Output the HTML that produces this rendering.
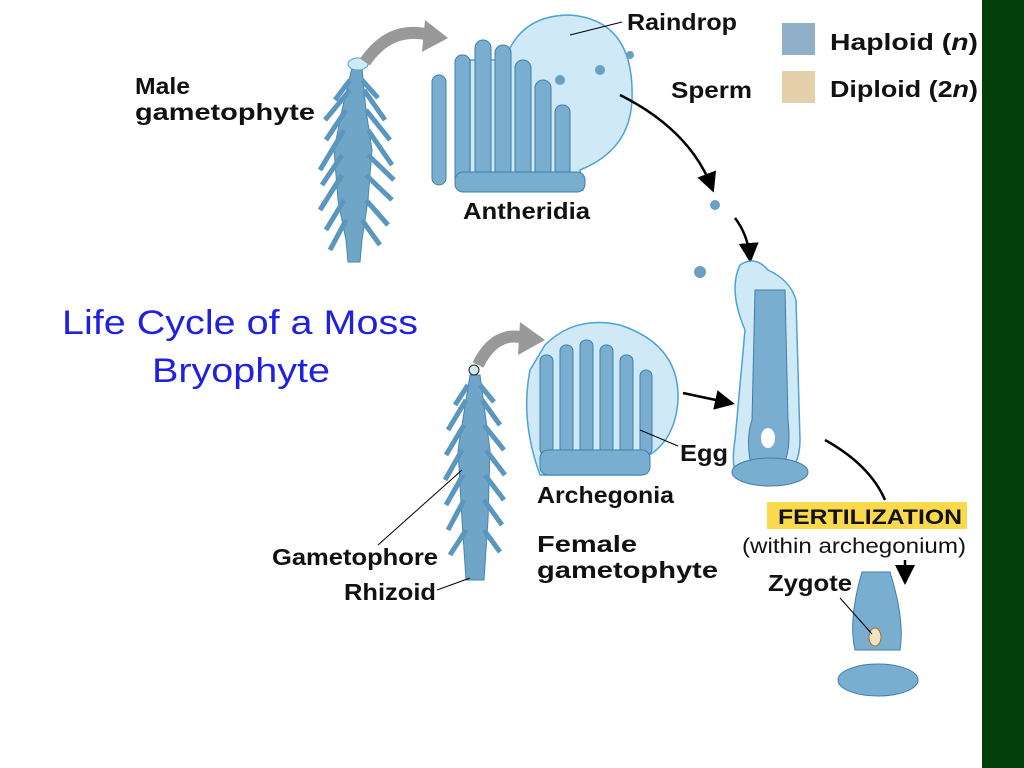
<!DOCTYPE html>
<html><head><meta charset="utf-8"><style>
html,body{margin:0;padding:0;background:#fff;width:1024px;height:768px;overflow:hidden}
svg{display:block}
text{font-family:"Liberation Sans",Arial,sans-serif}
.b{font-weight:bold;font-size:23px;fill:#111}
</style></head><body>
<svg width="1024" height="768" viewBox="0 0 1024 768">
<defs>
<marker id="ah" markerWidth="8" markerHeight="8" refX="6" refY="4" orient="auto"><path d="M0,0 L8,4 L0,8 Z" fill="#000"/></marker>
</defs>
<rect x="982" y="0" width="42" height="768" fill="#023f0b"/>
<rect x="782" y="23" width="33" height="32" fill="#8fb0c8"/>
<rect x="782" y="71" width="33" height="32" fill="#e6d0ac"/>
<text x="830" y="50" class="b" textLength="148" lengthAdjust="spacingAndGlyphs">Haploid (<tspan font-style="italic">n</tspan>)</text>
<text x="830" y="97" class="b" textLength="148" lengthAdjust="spacingAndGlyphs">Diploid (2<tspan font-style="italic">n</tspan>)</text>
<text x="62" y="334" font-size="34" fill="#2020e0" textLength="356" lengthAdjust="spacingAndGlyphs">Life Cycle of a Moss</text>
<text x="152" y="382" font-size="34" fill="#2020e0" textLength="178" lengthAdjust="spacingAndGlyphs">Bryophyte</text>
<!-- male plant -->
<g fill="#6fa6c8" stroke="#4a86ad" stroke-width="1">
<path d="M352,68 L362,68 L366,110 L372,150 L368,200 L362,240 L360,262 L348,262 L346,240 L338,200 L334,150 L342,110 Z"/>
<path d="M350,80 L335,100 M362,80 L378,98 M350,90 L325,120 M364,90 L385,120 M346,110 L326,140 M366,110 L390,140 M344,130 L320,170 M368,130 L392,165 M342,155 L322,185 M368,155 L394,180 M342,175 L320,210 M366,175 L392,200 M344,200 L326,230 M366,200 L388,225 M346,220 L330,250 M362,220 L380,245" stroke="#5a96bd" stroke-width="5" fill="none"/>
</g>
<ellipse cx="358" cy="64" rx="10" ry="6" fill="#cfe9f5" stroke="#4aa3d6"/>
<path d="M365,62 Q390,25 430,35" stroke="#999" stroke-width="12" fill="none"/>
<polygon points="425,20 448,38 422,52" fill="#999"/>
<!-- antheridia -->
<path d="M505,60 Q520,15 570,15 Q635,20 632,100 Q630,150 580,170 L583,190 L470,190 L470,60 Z" fill="#cfeaf6" stroke="#4aa3d6" stroke-width="1.5"/>
<g fill="#7aaed0" stroke="#3f7ea8">
<rect x="432" y="75" width="14" height="110" rx="7"/>
<rect x="455" y="55" width="15" height="130" rx="7"/>
<rect x="475" y="40" width="16" height="145" rx="8"/>
<rect x="495" y="45" width="16" height="140" rx="8"/>
<rect x="515" y="60" width="16" height="125" rx="8"/>
<rect x="535" y="80" width="16" height="105" rx="8"/>
<rect x="555" y="105" width="15" height="80" rx="7"/>
<rect x="455" y="172" width="130" height="20" rx="8"/>
</g>
<text x="463" y="219" class="b" textLength="127" lengthAdjust="spacingAndGlyphs">Antheridia</text>
<text x="627" y="30" class="b" textLength="110" lengthAdjust="spacingAndGlyphs">Raindrop</text>
<line x1="570" y1="35" x2="622" y2="22" stroke="#000"/>
<text x="671" y="98" class="b" textLength="81" lengthAdjust="spacingAndGlyphs">Sperm</text>
<text x="135" y="94" class="b" textLength="55" lengthAdjust="spacingAndGlyphs">Male</text>
<text x="135" y="120" class="b" textLength="180" lengthAdjust="spacingAndGlyphs">gametophyte</text>
<g fill="#6aa0c4"><circle cx="630" cy="55" r="4"/><circle cx="600" cy="70" r="5"/><circle cx="560" cy="80" r="5"/><circle cx="715" cy="205" r="5"/><circle cx="700" cy="272" r="6"/></g>
<path d="M620,95 Q690,130 712,188" stroke="#000" stroke-width="2.5" fill="none" marker-end="url(#ah)"/>
<path d="M735,218 Q748,235 750,258" stroke="#000" stroke-width="2.5" fill="none" marker-end="url(#ah)"/>
<!-- tall archegonium -->
<path d="M740,265 Q755,255 768,270 Q790,280 796,300 L800,440 Q800,475 770,482 L740,480 Q730,470 735,440 L745,330 Q728,290 740,265 Z" fill="#cfeaf6" stroke="#4aa3d6" stroke-width="1.5"/>
<path d="M755,290 L785,290 L788,420 Q792,455 780,470 L752,470 Q745,440 752,420 Z" fill="#7aaed0" stroke="#3f7ea8"/>
<ellipse cx="768" cy="438" rx="7" ry="10" fill="#fff"/>
<ellipse cx="770" cy="472" rx="38" ry="14" fill="#7aaed0" stroke="#3f7ea8"/>
<!-- female plant -->
<g fill="#6fa6c8" stroke="#4a86ad">
<path d="M470,375 L480,375 L490,450 L488,520 L484,580 L466,580 L462,520 L458,450 Z"/>
<path d="M468,385 L455,405 M480,385 L494,402 M466,400 L448,430 M482,400 L500,425 M464,425 L446,455 M484,425 L504,450 M462,450 L445,480 M486,450 L505,475 M463,475 L446,505 M485,475 L504,500 M464,500 L448,530 M484,500 L502,525 M466,530 L450,555 M484,530 L500,552" stroke="#5a96bd" stroke-width="5" fill="none"/>
</g>
<circle cx="474" cy="370" r="5" fill="#cfe9f5" stroke="#222"/>
<path d="M478,365 Q495,330 525,338" stroke="#999" stroke-width="12" fill="none"/>
<polygon points="520,322 545,340 518,355" fill="#999"/>
<!-- archegonia bubble -->
<path d="M545,345 Q575,315 620,325 Q680,345 678,400 Q675,445 640,460 L640,475 L540,475 Q520,420 530,370 Z" fill="#cfeaf6" stroke="#4aa3d6" stroke-width="1.5"/>
<g fill="#7aaed0" stroke="#3f7ea8">
<rect x="540" y="355" width="13" height="100" rx="6"/>
<rect x="560" y="345" width="13" height="110" rx="6"/>
<rect x="580" y="340" width="13" height="115" rx="6"/>
<rect x="600" y="345" width="13" height="110" rx="6"/>
<rect x="620" y="355" width="13" height="100" rx="6"/>
<rect x="640" y="370" width="12" height="85" rx="6"/>
<rect x="540" y="450" width="110" height="25" rx="8"/>
</g>
<text x="537" y="503" class="b" textLength="137" lengthAdjust="spacingAndGlyphs">Archegonia</text>
<text x="680" y="461" class="b" textLength="48" lengthAdjust="spacingAndGlyphs">Egg</text>
<line x1="640" y1="430" x2="678" y2="446" stroke="#000"/>
<text x="537" y="552" class="b" textLength="100" lengthAdjust="spacingAndGlyphs">Female</text>
<text x="537" y="578" class="b" textLength="181" lengthAdjust="spacingAndGlyphs">gametophyte</text>
<path d="M683,393 L730,403" stroke="#000" stroke-width="2.5" marker-end="url(#ah)"/>
<text x="272" y="565" class="b" textLength="166" lengthAdjust="spacingAndGlyphs">Gametophore</text>
<text x="344" y="600" class="b" textLength="92" lengthAdjust="spacingAndGlyphs">Rhizoid</text>
<line x1="378" y1="545" x2="462" y2="470" stroke="#000"/>
<line x1="437" y1="590" x2="470" y2="578" stroke="#000"/>
<path d="M825,440 Q870,465 885,500" stroke="#000" stroke-width="2.5" fill="none"/>
<rect x="767" y="502" width="200" height="27" fill="#fbd94c"/>
<text x="778" y="524" font-weight="bold" font-size="21" fill="#111" textLength="184" lengthAdjust="spacingAndGlyphs">FERTILIZATION</text>
<text x="742" y="553" font-size="21" fill="#111" textLength="224" lengthAdjust="spacingAndGlyphs">(within archegonium)</text>
<text x="768" y="591" class="b" textLength="84" lengthAdjust="spacingAndGlyphs">Zygote</text>
<line x1="905" y1="560" x2="905" y2="580" stroke="#000" stroke-width="2.5" marker-end="url(#ah)"/>
<path d="M862,572 L890,572 Q905,620 900,650 L855,650 Q848,620 862,572 Z" fill="#7aaed0" stroke="#3f7ea8"/>
<ellipse cx="878" cy="680" rx="40" ry="16" fill="#7aaed0" stroke="#3f7ea8"/>
<ellipse cx="875" cy="637" rx="6" ry="9" fill="#f3e2bf" stroke="#a07030"/>
<line x1="840" y1="598" x2="872" y2="634" stroke="#000"/>
</svg>
</body></html>
